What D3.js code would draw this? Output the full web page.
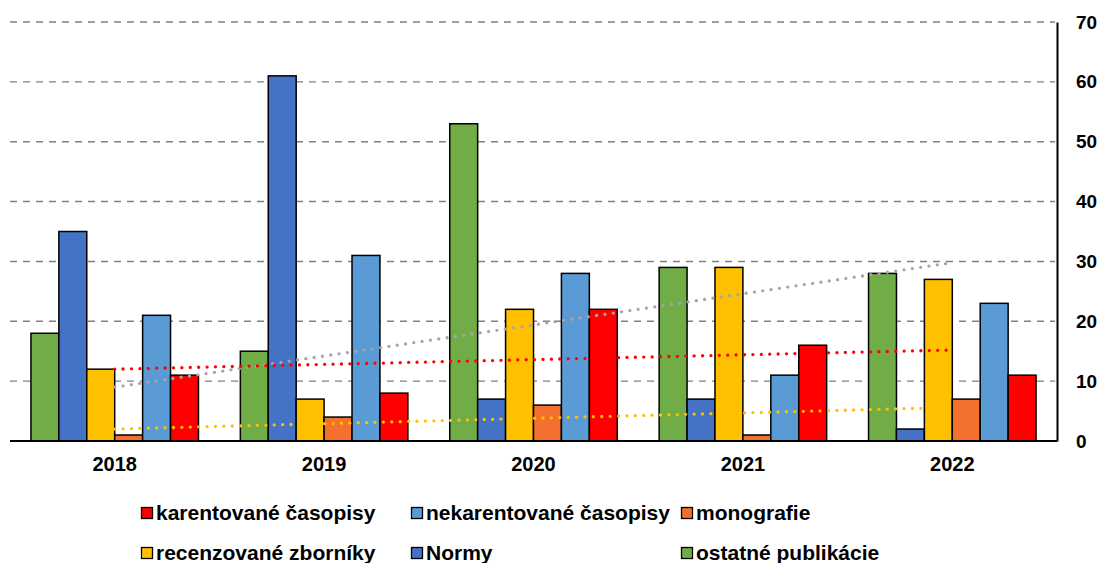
<!DOCTYPE html>
<html>
<head>
<meta charset="utf-8">
<script src="https://cdn.jsdelivr.net/npm/d3@7"></script>
<style>
  body { margin: 0; background: #fff; }
  #container { width: 1103px; height: 563px; }
  text { font-family: "Liberation Sans", Arial, sans-serif; font-weight: bold; fill: #000; }
</style>
</head>
<body>
<div id="container"></div>
<script>
"use strict";

// data
const years = ["2018", "2019", "2020", "2021", "2022"];
const ostatne = [18, 15, 53, 29, 28];
const normy = [35, 61, 7, 7, 2];
const zborniky = [12, 7, 22, 29, 27];
const monografie = [1, 4, 6, 1, 7];
const nekarentovane = [21, 31, 28, 11, 23];
const karentovane = [11, 8, 22, 16, 11];
const yTicks = [0, 10, 20, 30, 40, 50, 60, 70];

// bar order inside a year group (left to right)
const series = [
  { name: "ostatné publikácie", values: ostatne, color: "#70ad47" },
  { name: "Normy", values: normy, color: "#4472c4" },
  { name: "recenzované zborníky", values: zborniky, color: "#ffc000" },
  { name: "monografie", values: monografie, color: "#f4702f" },
  { name: "nekarentované časopisy", values: nekarentovane, color: "#5b9bd5" },
  { name: "karentované časopisy", values: karentovane, color: "#ff0000" }
];

// legend order, row by row
const legendOrder = [
  "karentované časopisy", "nekarentované časopisy", "monografie",
  "recenzované zborníky", "Normy", "ostatné publikácie"
];

// linear trendlines (which series, what colour)
const trends = [
  { values: zborniky, color: "#a5a5a5" },
  { values: karentovane, color: "#ff0000" },
  { values: monografie, color: "#ffc000" }
];

const W = 1103, H = 563;
const plot = { left: 10, right: 1057, top: 22, bottom: 441 };

const svg = d3.select("#container").append("svg")
    .attr("width", W)
    .attr("height", H);

const x = d3.scaleBand()
    .domain(years)
    .range([plot.left, plot.right])
    .paddingInner(0.2)
    .paddingOuter(0.1);

const xs = d3.scaleBand()
    .domain(series.map(s => s.name))
    .range([0, x.bandwidth()]);

const y = d3.scaleLinear()
    .domain([0, 70])
    .range([plot.bottom, plot.top]);

// dashed gridlines
svg.append("g")
    .selectAll("line")
    .data(yTicks.filter(d => d > 0))
    .enter().append("line")
        .attr("x1", plot.left)
        .attr("x2", plot.right - 2)
        .attr("y1", d => y(d))
        .attr("y2", d => y(d))
        .attr("stroke", "#808080")
        .attr("stroke-width", 1.4)
        .attr("stroke-dasharray", "7,6");

// bars
const groups = svg.append("g")
    .selectAll("g")
    .data(series)
    .enter().append("g")
        .attr("fill", d => d.color);

groups.selectAll("rect")
    .data(s => s.values.map((v, i) => ({ name: s.name, year: years[i], v: v })))
    .enter().append("rect")
        .attr("x", d => x(d.year) + xs(d.name))
        .attr("width", xs.bandwidth())
        .attr("y", d => y(d.v))
        .attr("height", d => y(0) - y(d.v))
        .attr("stroke", "#000")
        .attr("stroke-width", 1.5);

// trendlines: least squares over the year index
const trendLine = d3.line()
    .x(d => x(years[d[0]]) + x.bandwidth() / 2)
    .y(d => y(d[1]));

trends.forEach(function(t) {
    const n = t.values.length;
    const mx = d3.mean(d3.range(n));
    const my = d3.mean(t.values);
    const slope = d3.sum(t.values, (v, i) => (i - mx) * (v - my)) /
        d3.sum(d3.range(n), i => (i - mx) * (i - mx));
    const ends = [[0, my - slope * mx], [n - 1, my + slope * (n - 1 - mx)]];
    svg.append("path")
        .attr("d", trendLine(ends))
        .attr("fill", "none")
        .attr("stroke", t.color)
        .attr("stroke-width", 3.3)
        .attr("stroke-linecap", "round")
        .attr("stroke-dasharray", "0,8.4");
});

// baseline and right axis
svg.append("line")
    .attr("x1", plot.left).attr("x2", plot.right)
    .attr("y1", y(0)).attr("y2", y(0))
    .attr("stroke", "#000").attr("stroke-width", 2);

const yAxis = svg.append("g")
    .attr("transform", `translate(${plot.right}, 0)`)
    .call(d3.axisRight(y).tickValues(yTicks).tickSize(0).tickPadding(19));
yAxis.select(".domain").attr("stroke", "#000").attr("stroke-width", 2);
yAxis.selectAll("text")
    .attr("font-size", 19)
    .attr("font-family", null);

const xAxis = svg.append("g")
    .attr("transform", `translate(0, ${plot.bottom})`)
    .call(d3.axisBottom(x).tickSize(0).tickPadding(16));
xAxis.select(".domain").remove();
xAxis.selectAll("text")
    .attr("font-size", 20)
    .attr("font-family", null);

// legend
const legend = svg.append("g").attr("class", "legend");
const colX = [141, 411, 681], rowY = [513, 553];

legendOrder.forEach(function(name, i) {
    const s = series.find(d => d.name === name);
    const g = legend.append("g")
        .attr("transform", `translate(${colX[i % 3]}, ${rowY[Math.floor(i / 3)]})`);
    g.append("rect")
        .attr("x", 0.5).attr("y", -5.5)
        .attr("width", 11).attr("height", 11)
        .attr("fill", s.color)
        .attr("stroke", "#000")
        .attr("stroke-width", 1.3);
    g.append("text")
        .attr("x", 15)
        .attr("dy", "0.35em")
        .attr("font-size", 21)
        .text(name);
});
</script>
</body>
</html>
